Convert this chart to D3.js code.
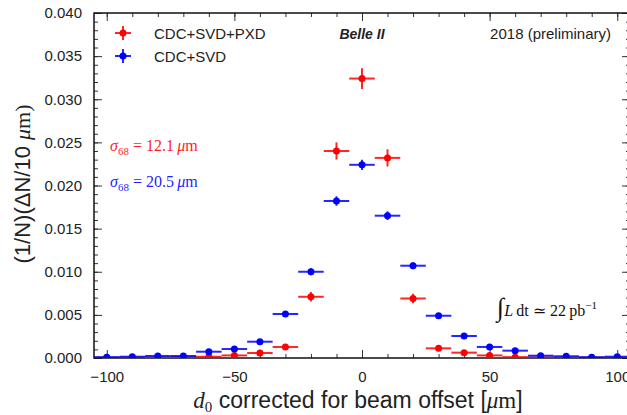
<!DOCTYPE html>
<html>
<head>
    <title>Belle II d0 resolution</title>
    <script src="https://d3js.org/d3.v7.min.js"></script>
    <style>
        body { margin: 0; background: #fff; }
        svg { display: block; }
        .tick text { font-family: "Liberation Sans", Arial, sans-serif; font-size: 15px; fill: #222; }
        .tick line { stroke: #333; }
        .domain { display: none; }
    </style>
</head>
<body>
<script>
    // bin centres in micrometres
    const binCenters = [-100, -90, -80, -70, -60, -50, -40, -30, -20, -10, 0, 10, 20, 30, 40, 50, 60, 70, 80, 90, 100];
    const binHalfWidth = 5;

    // CDC+SVD+PXD
    const pxdValues = [0.00003, 0.00005, 0.00005, 0.0001, 0.00015, 0.0003, 0.00058, 0.00128, 0.0071, 0.0240, 0.0324, 0.0232, 0.0069, 0.00112, 0.00062, 0.0003, 0.0001, 0.00008, 0.00005, 0.00003, 0.00003];
    const pxdErrors = [0.00004, 0.00005, 0.00005, 0.00007, 0.00008, 0.0001, 0.00015, 0.00025, 0.00055, 0.001, 0.0012, 0.001, 0.00055, 0.00022, 0.00016, 0.0001, 0.00007, 0.00006, 0.00005, 0.00004, 0.00004];

    // CDC+SVD
    const svdValues = [0.0001, 0.00015, 0.00023, 0.00023, 0.00073, 0.00104, 0.00189, 0.0051, 0.0100, 0.0182, 0.0224, 0.0165, 0.0107, 0.0049, 0.00255, 0.00128, 0.00085, 0.00027, 0.0002, 0.0001, 0.00015];
    const svdErrors = [0.00006, 0.00007, 0.00008, 0.00008, 0.00013, 0.00015, 0.0002, 0.0003, 0.0004, 0.00055, 0.0006, 0.0005, 0.0004, 0.0003, 0.0002, 0.00015, 0.00013, 0.00008, 0.00008, 0.00006, 0.00007];

    const xMajor = [-100, -50, 0, 50, 100];
    const yMajor = [0, 0.005, 0.01, 0.015, 0.02, 0.025, 0.03, 0.035, 0.04];

    const W = 627, H = 415;
    const mLeft = 94, mRight = 630, mTop = 13, mBottom = 358;

    const svg = d3.select("body").append("svg")
        .attr("width", W)
        .attr("height", H);

    const x = d3.scaleLinear().domain([-105, 105]).range([mLeft, mRight]);
    const y = d3.scaleLinear().domain([0, 0.04]).range([mBottom, mTop]);

    svg.append("defs").append("clipPath").attr("id", "plotclip")
        .append("rect")
        .attr("x", mLeft).attr("y", mTop)
        .attr("width", mRight - mLeft).attr("height", mBottom - mTop);

    // ticks, inward, on all four sides
    const xMinor = d3.range(-100, 101, 10);
    const yMinor = d3.range(0, 0.0401, 0.001);

    svg.append("g").attr("transform", `translate(0,${mBottom})`)
        .call(d3.axisBottom(x).tickValues(xMinor).tickSize(-4).tickFormat(""));
    svg.append("g").attr("transform", `translate(0,${mBottom})`)
        .call(d3.axisBottom(x).tickValues(xMajor).tickSize(-8).tickPadding(13).tickFormat(d3.format("d")));
    svg.append("g").attr("transform", `translate(0,${mTop})`)
        .call(d3.axisTop(x).tickValues(xMinor).tickSize(-4).tickFormat(""));
    svg.append("g").attr("transform", `translate(0,${mTop})`)
        .call(d3.axisTop(x).tickValues(xMajor).tickSize(-8).tickFormat(""));

    svg.append("g").attr("transform", `translate(${mLeft},0)`)
        .call(d3.axisLeft(y).tickValues(yMinor).tickSize(-4).tickFormat(""));
    svg.append("g").attr("transform", `translate(${mLeft},0)`)
        .call(d3.axisLeft(y).tickValues(yMajor).tickSize(-8).tickPadding(12).tickFormat(d3.format(".3f")));
    svg.append("g").attr("transform", `translate(${mRight},0)`)
        .call(d3.axisRight(y).tickValues(yMinor).tickSize(-4).tickFormat(""));
    svg.append("g").attr("transform", `translate(${mRight},0)`)
        .call(d3.axisRight(y).tickValues(yMajor).tickSize(-8).tickFormat(""));

    // frame
    svg.append("rect")
        .attr("x", mLeft).attr("y", mTop)
        .attr("width", mRight - mLeft).attr("height", mBottom - mTop)
        .attr("fill", "none")
        .attr("stroke", "#111")
        .attr("stroke-width", 1.5);

    // data
    const plot = svg.append("g").attr("clip-path", "url(#plotclip)");

    function drawSeries(values, errors, color) {
        const pts = binCenters.map((c, i) => ({ c, v: values[i], e: errors[i] }));
        const g = plot.append("g");
        g.selectAll("line.xerr").data(pts).join("line")
            .attr("class", "xerr")
            .attr("x1", d => x(d.c - binHalfWidth))
            .attr("x2", d => x(d.c + binHalfWidth))
            .attr("y1", d => y(d.v))
            .attr("y2", d => y(d.v))
            .attr("stroke", color)
            .attr("stroke-opacity", 0.85)
            .attr("stroke-width", 2);
        g.selectAll("line.yerr").data(pts).join("line")
            .attr("class", "yerr")
            .attr("x1", d => x(d.c))
            .attr("x2", d => x(d.c))
            .attr("y1", d => y(d.v - d.e))
            .attr("y2", d => y(d.v + d.e))
            .attr("stroke", color)
            .attr("stroke-opacity", 0.85)
            .attr("stroke-width", 2);
        g.selectAll("circle").data(pts).join("circle")
            .attr("cx", d => x(d.c))
            .attr("cy", d => y(d.v))
            .attr("r", 3.5)
            .attr("fill", color);
    }

    drawSeries(pxdValues, pxdErrors, "#ff0000");
    drawSeries(svdValues, svdErrors, "#0000ff");

    // legend
    const legendItems = [
        { label: "CDC+SVD+PXD", color: "#ff0000" },
        { label: "CDC+SVD", color: "#0000ff" }
    ];
    const legend = svg.append("g").attr("transform", "translate(123,33)");
    legendItems.forEach((d, i) => {
        const row = legend.append("g").attr("transform", `translate(0,${i * 23})`);
        row.append("line").attr("x1", -8).attr("x2", 8).attr("y1", 0).attr("y2", 0)
            .attr("stroke", d.color).attr("stroke-width", 2).attr("stroke-opacity", 0.85);
        row.append("line").attr("x1", 0).attr("x2", 0).attr("y1", -7).attr("y2", 7)
            .attr("stroke", d.color).attr("stroke-width", 2).attr("stroke-opacity", 0.85);
        row.append("circle").attr("r", 3.5).attr("fill", d.color);
        row.append("text")
            .attr("x", 31).attr("y", 5.5)
            .style("font-family", "Liberation Sans, Arial, sans-serif")
            .style("font-size", "15px")
            .attr("fill", "#222")
            .text(d.label);
    });

    // annotations
    svg.append("text")
        .attr("x", 362).attr("y", 38.5)
        .attr("text-anchor", "middle")
        .style("font-family", "Liberation Sans, Arial, sans-serif")
        .style("font-size", "14px")
        .style("font-weight", "bold")
        .style("font-style", "italic")
        .attr("fill", "#222")
        .text("Belle II");

    svg.append("text")
        .attr("x", 611).attr("y", 38.5)
        .attr("text-anchor", "end")
        .style("font-family", "Liberation Sans, Arial, sans-serif")
        .style("font-size", "15px")
        .attr("fill", "#222")
        .text("2018 (preliminary)");

    const serif = "Liberation Serif, DejaVu Serif, serif";
    function sigmaLabel(yPos, color, value) {
        const t = svg.append("text")
            .attr("x", 110).attr("y", yPos)
            .style("font-family", serif)
            .style("font-size", "16px")
            .attr("fill", color)
            .attr("fill-opacity", 0.9);
        t.append("tspan").style("font-style", "italic").text("σ");
        t.append("tspan").attr("dy", 4).style("font-size", "11px").text("68");
        t.append("tspan").attr("dy", -4).text(` = ${value}\u2009`);
        t.append("tspan").style("font-style", "italic").text("μ");
        t.append("tspan").text("m");
    }
    sigmaLabel(151, "#ff0000", "12.1");
    sigmaLabel(187, "#0000ff", "20.5");

    const lumi = svg.append("text")
        .attr("x", 497).attr("y", 316)
        .style("font-family", serif)
        .style("font-size", "16px")
        .attr("fill", "#111");
    lumi.append("tspan").style("font-size", "26px").text("∫");
    lumi.append("tspan").style("font-style", "italic").text("L");
    lumi.append("tspan").text("\u2009dt ≃ 22\u2009pb");
    lumi.append("tspan").attr("dy", -7).style("font-size", "11px").text("−1");

    // axis titles
    const xTitle = svg.append("text")
        .attr("x", 358).attr("y", 408)
        .attr("text-anchor", "middle")
        .style("font-family", "Liberation Sans, Arial, sans-serif")
        .style("font-size", "23px")
        .attr("fill", "#222");
    xTitle.append("tspan").style("font-family", serif).style("font-style", "italic").text("d");
    xTitle.append("tspan").attr("dy", 4).style("font-family", serif).style("font-size", "15px").text("0");
    xTitle.append("tspan").attr("dy", -4).text(" corrected for beam offset [");
    xTitle.append("tspan").style("font-family", serif).style("font-style", "italic").text("μ");
    xTitle.append("tspan").style("font-family", serif).text("m");
    xTitle.append("tspan").text("]");

    const yTitle = svg.append("text")
        .attr("transform", "translate(30,184) rotate(-90)")
        .attr("text-anchor", "middle")
        .style("font-family", "Liberation Sans, Arial, sans-serif")
        .style("font-size", "22px")
        .attr("fill", "#222");
    yTitle.append("tspan").text("(1/N)(ΔN/10 ");
    yTitle.append("tspan").style("font-family", serif).style("font-style", "italic").text("μ");
    yTitle.append("tspan").style("font-family", serif).text("m)");
</script>
</body>
</html>
